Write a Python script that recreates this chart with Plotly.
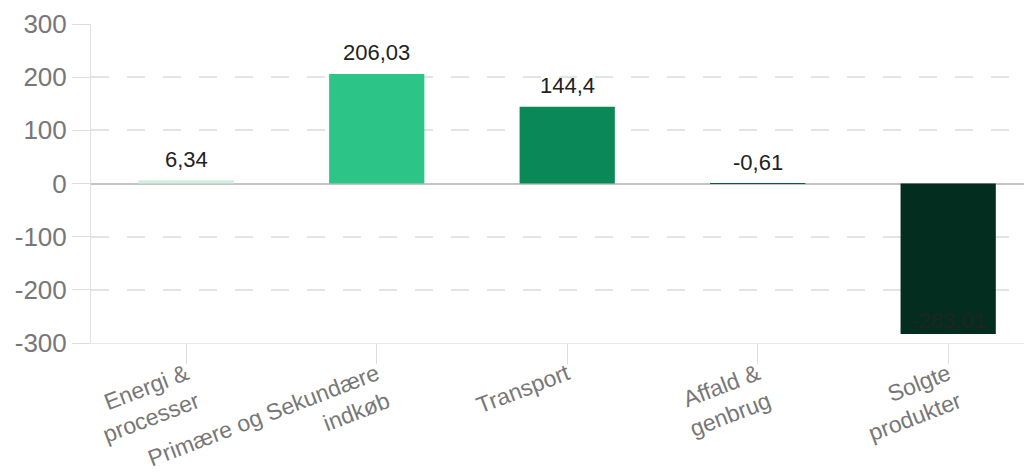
import plotly.graph_objects as go

categories = ["Energi &<br>processer", "Primære og Sekundære<br>indkøb", "Transport",
              "Affald &<br>genbrug", "Solgte<br>produkter"]
values = [6.34, 206.03, 144.4, -0.61, -283.01]
bar_colors = ["#d2efe2", "#2dc487", "#0a8857", "#0c5e3d", "#032e1f"]
y_ticks = [-300, -200, -100, 0, 100, 200, 300]
y_tick_text = [str(t) for t in y_ticks]

fig = go.Figure()
fig.add_trace(go.Bar(
    x=list(range(len(categories))), y=values,
    marker=dict(color=bar_colors, line=dict(width=0)),
    width=0.5, hoverinfo="skip",
))

for i, v in enumerate(values):
    fig.add_annotation(
        x=i, y=v, text=f"{v:g}".replace(".", ","), showarrow=False,
        yanchor="middle", yshift=21 if v > -250 else 13,
        font=dict(family="Liberation Sans, Arial", size=22, color="#222"),
    )

fig.update_layout(
    width=1024, height=467,
    margin=dict(l=83, r=0, t=16, b=132, autoexpand=False),
    paper_bgcolor="white", plot_bgcolor="white",
    showlegend=False, bargap=0.5,
    font=dict(family="Liberation Sans, Arial"),
)
fig.update_xaxes(
    range=[-0.5, 4.44], tickmode="array",
    tickvals=list(range(len(categories))), ticktext=categories,
    tickangle=-21, tickson="boundaries", ticks="outside", ticklen=20,
    tickcolor="#dddddd", showgrid=False, showline=True, linecolor="#e8e8e8",
    tickfont=dict(size=23, color="#777"), ticklabelstandoff=-12,
    zeroline=False, automargin=False,
)
fig.update_yaxes(
    range=[-300, 300], tickmode="array", tickvals=y_ticks, ticktext=y_tick_text,
    ticks="outside", ticklen=18, tickcolor="#dddddd",
    showline=True, linecolor="#e0e0e0",
    gridcolor="#e3e3e3", griddash="18px,18px", gridwidth=1.5,
    zeroline=True, zerolinecolor="#c4c4c4", zerolinewidth=1.5,
    tickfont=dict(size=26, color="#777"), automargin=False,
)

fig.write_html("out.html")
